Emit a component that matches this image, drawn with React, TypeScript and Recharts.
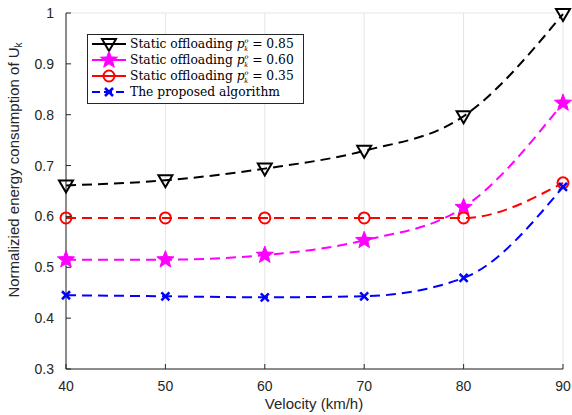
import React from "react";
import { LineChart, Line, XAxis, YAxis, CartesianGrid } from "recharts";

const velocity = [40, 50, 60, 70, 80, 90];
const static085 = [0.661, 0.671, 0.694, 0.729, 0.797, 0.998];
const static060 = [0.515, 0.515, 0.524, 0.553, 0.618, 0.823];
const static035 = [0.597, 0.597, 0.597, 0.597, 0.597, 0.666];
const proposed = [0.445, 0.443, 0.441, 0.443, 0.479, 0.658];

const xTicks = [40, 50, 60, 70, 80, 90];
const yTicks = [0.3, 0.4, 0.5, 0.6, 0.7, 0.8, 0.9, 1];

const seriesInfo = [
  { key: "s085", color: "#000000", marker: "tri", label: "Static offloading", p: "0.85" },
  { key: "s060", color: "#ff00ff", marker: "star", label: "Static offloading", p: "0.60" },
  { key: "s035", color: "#ff0000", marker: "circle", label: "Static offloading", p: "0.35" },
  { key: "prop", color: "#0000ff", marker: "x", label: "The proposed algorithm", p: "" },
];

const data = velocity.map((v, i) => ({
  v,
  s085: static085[i],
  s060: static060[i],
  s035: static035[i],
  prop: proposed[i],
}));

const AXIS = "#262626";
const FONT = "'Liberation Sans', Arial, Helvetica, sans-serif";
const SERIF = "'DejaVu Serif', 'Liberation Serif', serif";

function starPoints(cx: number, cy: number, ro: number, ri: number) {
  const pts: string[] = [];
  for (let i = 0; i < 10; i++) {
    const r = i % 2 === 0 ? ro : ri;
    const a = -Math.PI / 2 + (i * Math.PI) / 5;
    pts.push(`${cx + r * Math.cos(a)},${cy + r * Math.sin(a)}`);
  }
  return pts.join(" ");
}

function Marker({ type, cx, cy, color }: { type: string; cx: number; cy: number; color: string }) {
  if (type === "tri") {
    return (
      <polygon
        points={`${cx - 7},${cy - 5} ${cx + 7},${cy - 5} ${cx},${cy + 7}`}
        fill="none"
        stroke={color}
        strokeWidth={2}
      />
    );
  }
  if (type === "star") {
    return <polygon points={starPoints(cx, cy, 9, 3.8)} fill={color} stroke={color} strokeWidth={1} />;
  }
  if (type === "circle") {
    return <circle cx={cx} cy={cy} r={5.5} fill="none" stroke={color} strokeWidth={2} />;
  }
  return (
    <g stroke={color} strokeWidth={2.5}>
      <line x1={cx - 4} y1={cy - 4} x2={cx + 4} y2={cy + 4} />
      <line x1={cx - 4} y1={cy + 4} x2={cx + 4} y2={cy - 4} />
    </g>
  );
}

const makeDot = (type: string, color: string) => (props: any) => {
  const { cx, cy, index } = props;
  return <Marker key={`${type}-${index}`} type={type} cx={cx} cy={cy} color={color} />;
};

const BottomTick = (props: any) => {
  const { x, y, payload } = props;
  return (
    <g>
      <line x1={x} y1={y} x2={x} y2={y - 5} stroke={AXIS} strokeWidth={1} />
      <text x={x} y={y + 22} textAnchor="middle" fill={AXIS} fontSize={14} fontFamily={FONT}>
        {payload.value}
      </text>
    </g>
  );
};

const TopTick = (props: any) => {
  const { x, y } = props;
  return <line x1={x} y1={y} x2={x} y2={y + 5} stroke={AXIS} strokeWidth={1} />;
};

const LeftTick = (props: any) => {
  const { x, y, payload } = props;
  return (
    <g>
      <line x1={x} y1={y} x2={x + 5} y2={y} stroke={AXIS} strokeWidth={1} />
      <text x={x - 12} y={y + 5} textAnchor="end" fill={AXIS} fontSize={14} fontFamily={FONT}>
        {String(payload.value)}
      </text>
    </g>
  );
};

const RightTick = (props: any) => {
  const { x, y } = props;
  return <line x1={x} y1={y} x2={x - 5} y2={y} stroke={AXIS} strokeWidth={1} />;
};

const YLabel = () => (
  <text
    x={19}
    y={170}
    transform="rotate(-90, 19, 170)"
    textAnchor="middle"
    fill={AXIS}
    fontSize={15}
    fontFamily={FONT}
  >
    Normalizied energy consumption of U
    <tspan fontSize={10} dy={3}>
      k
    </tspan>
  </text>
);

const XLabel = () => (
  <text x={314} y={409} textAnchor="middle" fill={AXIS} fontSize={15} fontFamily={FONT}>
    Velocity (km/h)
  </text>
);

function LegendBox() {
  const rowY = [44, 60, 76, 92];
  return (
    <svg
      width={572}
      height={415}
      style={{ position: "absolute", left: 0, top: 0, pointerEvents: "none" }}
    >
      <rect x={87.5} y={34.5} width={216} height={69} fill="#ffffff" stroke={AXIS} strokeWidth={1} />
      {seriesInfo.map((s, i) => {
        const y = rowY[i];
        return (
          <g key={s.key}>
            <line x1={92} y1={y} x2={126} y2={y} stroke={s.color} strokeWidth={2} strokeDasharray={s.key === "prop" ? "8 4" : undefined} />
            <Marker type={s.marker} cx={109} cy={y} color={s.color} />
            <text x={130} y={y + 4} fontSize={12.3} fontFamily={SERIF} fill="#000">
              {s.label}
              {s.p ? (
                <>
                  <tspan fontStyle="italic"> p</tspan>
                  <tspan fontStyle="italic" fontSize={6.5} dy={-5.5}>o</tspan>
                  <tspan fontStyle="italic" fontSize={6.5} dx={-4.2} dy={8}>k</tspan>
                  <tspan dy={-2.5}>{` = ${s.p}`}</tspan>
                </>
              ) : null}
            </text>
          </g>
        );
      })}
    </svg>
  );
}

export default function App() {
  return (
    <div style={{ position: "absolute", left: 0, top: 0, width: 572, height: 415, background: "#fff" }}>
      <LineChart
        width={572}
        height={415}
        data={data}
        margin={{ top: 13, right: 9, bottom: 0, left: 0 }}
      >
        <CartesianGrid stroke="#e5e5e5" strokeWidth={1} />
        <XAxis
          xAxisId="b"
          dataKey="v"
          type="number"
          domain={[40, 90]}
          ticks={xTicks}
          height={46}
          tickSize={0}
          tickMargin={0}
          tickLine={false}
          axisLine={{ stroke: AXIS }}
          tick={<BottomTick />}
          interval={0}
        />
        <XAxis
          xAxisId="t"
          orientation="top"
          dataKey="v"
          type="number"
          domain={[40, 90]}
          ticks={xTicks}
          height={0}
          tickSize={0}
          tickMargin={0}
          tickLine={false}
          axisLine={{ stroke: AXIS }}
          tick={<TopTick />}
          interval={0}
        />
        <YAxis
          yAxisId="l"
          type="number"
          domain={[0.3, 1]}
          ticks={yTicks}
          width={66}
          tickSize={0}
          tickMargin={0}
          tickLine={false}
          axisLine={{ stroke: AXIS }}
          tick={<LeftTick />}
          interval={0}
        />
        <YAxis
          yAxisId="r"
          orientation="right"
          type="number"
          domain={[0.3, 1]}
          ticks={yTicks}
          width={0}
          tickSize={0}
          tickMargin={0}
          tickLine={false}
          axisLine={{ stroke: AXIS }}
          tick={<RightTick />}
          interval={0}
        />
        {seriesInfo.map((s) => (
          <Line
            key={s.key}
            xAxisId="b"
            yAxisId="l"
            dataKey={s.key}
            type="monotone"
            stroke={s.color}
            strokeWidth={2}
            strokeDasharray="10 6"
            dot={makeDot(s.marker, s.color)}
            activeDot={false}
            isAnimationActive={false}
          />
        ))}
        <YLabel />
        <XLabel />
      </LineChart>
      <LegendBox />
    </div>
  );
}
